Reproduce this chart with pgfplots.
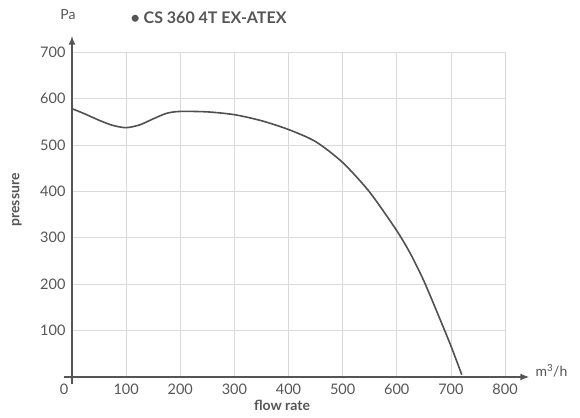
\documentclass[border=0pt]{standalone}
\usepackage{pgfplots}
\pgfplotsset{compat=1.18}
\usepackage{fontspec}
\setmainfont{Lato}
\usetikzlibrary{arrows.meta}
\definecolor{txt}{HTML}{555555}
\definecolor{crv}{HTML}{505050}
\definecolor{grd}{HTML}{DADADA}
\begin{document}
\begin{tikzpicture}
\begin{axis}[
  x=0.5413pt, y=0.4643pt,
  xmin=0, xmax=800, ymin=0, ymax=700,
  axis line style={draw=none},
  xtick={0,100,...,800}, ytick={100,200,...,700},
  xticklabels={{\makebox[0pt]{\hspace*{-16pt}0}},100,200,300,400,500,600,700,800},
  grid=major, grid style={grd, line width=0.6pt},
  major tick length=0pt,
  tick label style={font=\fontsize{14.5}{15}\selectfont, text=txt},
  /pgf/number format/assume math mode=true,
  xticklabel style={yshift=-3pt},
  yticklabel style={xshift=-3pt},
  clip=false,
]
\addplot[crv, line width=1.6pt, smooth, tension=0.45] coordinates {
(0,578) (25,566) (50,553) (75,542) (100,537) (125,543) (150,556) (175,568)
(200,572) (250,571) (300,565) (350,552) (400,533) (450,507) (500,462)
(550,398) (600,315) (625,266) (650,207) (675,138) (700,67) (720,5)
};
\draw[txt, line width=1.6pt, -{Latex[length=9pt,width=7pt]}] (axis cs:-14,0) -- (axis cs:845,0);
\draw[txt, line width=1.6pt, -{Latex[length=9pt,width=7pt]}] (axis cs:0,-14) -- (axis cs:0,735);
\coordinate (o) at (axis cs:0,0);
\end{axis}
\node[txt, font=\fontsize{14}{15}\selectfont] at ([shift={(-4pt,362pt)}]o) {Pa};
\node[txt, font=\fontsize{16}{17}\selectfont\bfseries, anchor=west] at ([shift={(55pt,359pt)}]o) {• CS 360 4T EX-ATEX};
\node[txt, font=\fontsize{14}{15}\selectfont, anchor=west] at ([shift={(460pt,6pt)}]o) {m\textsuperscript{3}/h};
\node[txt, font=\fontsize{14}{15}\selectfont\bfseries] at ([shift={(210pt,-28pt)}]o) {flow rate};
\node[txt, font=\fontsize{14}{15}\selectfont\bfseries, rotate=90] at ([shift={(-55pt,177pt)}]o) {pressure};
\pgfresetboundingbox
\path[use as bounding box] ([shift={(-72pt,-40pt)}]o) rectangle ([shift={(508pt,377pt)}]o);
\end{tikzpicture}
\end{document}
